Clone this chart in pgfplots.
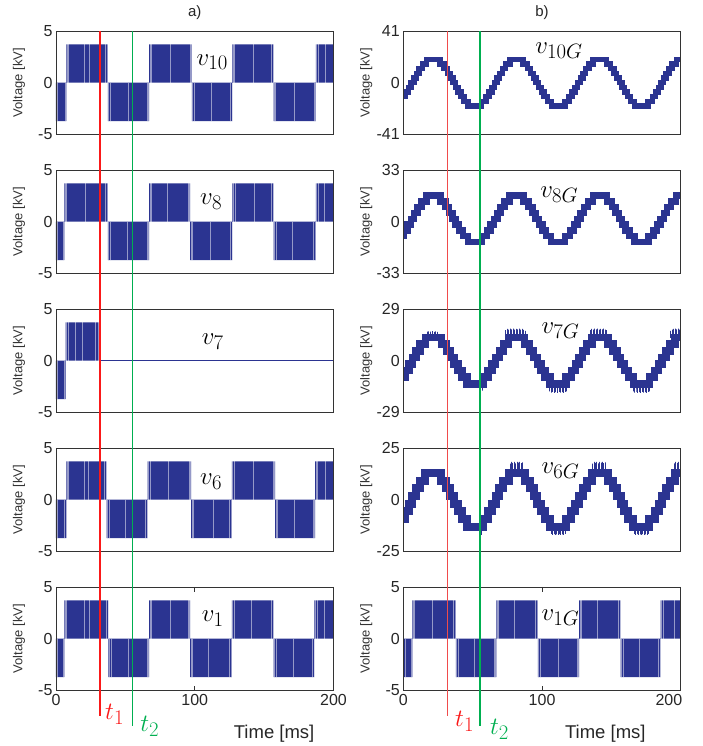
\documentclass[border=0pt]{standalone}
\usepackage{fontspec}
\setmainfont{Liberation Sans}
\usepackage{pgfplots}
\pgfplotsset{compat=1.18}
\usepackage{pgfplotstable}

\definecolor{navy}{RGB}{43,52,145}
\definecolor{redA}{RGB}{250,25,25}
\definecolor{redB}{RGB}{240,75,75}
\definecolor{grn}{RGB}{0,175,80}
\newcommand{\vlab}{\fontsize{24.88}{30}\selectfont}

% staircase waveforms (const plot, kV)
\pgfplotstableread{
x y
0 -11.1
1.74 -7.4
3.77 -3.7
5.67 0
7.53 3.7
9.43 7.4
11.46 11.1
13.76 14.8
16.8 18.5
26.4 14.8
29.44 11.1
31.74 7.4
33.77 3.7
35.67 0
37.53 -3.7
39.43 -7.4
41.46 -11.1
43.76 -14.8
46.8 -18.5
56.4 -14.8
59.44 -11.1
61.74 -7.4
63.77 -3.7
65.67 0
67.53 3.7
69.43 7.4
71.46 11.1
73.76 14.8
76.8 18.5
86.4 14.8
89.44 11.1
91.74 7.4
93.77 3.7
95.67 0
97.53 -3.7
99.43 -7.4
101.46 -11.1
103.76 -14.8
106.8 -18.5
116.4 -14.8
119.44 -11.1
121.74 -7.4
123.77 -3.7
125.67 0
127.53 3.7
129.43 7.4
131.46 11.1
133.76 14.8
136.8 18.5
146.4 14.8
149.44 11.1
151.74 7.4
153.77 3.7
155.67 0
157.53 -3.7
159.43 -7.4
161.46 -11.1
163.76 -14.8
166.8 -18.5
176.4 -14.8
179.44 -11.1
181.74 -7.4
183.77 -3.7
185.67 0
187.53 3.7
189.43 7.4
191.46 11.1
193.76 14.8
196.8 18.5
200 18.5
}\stairTen

\pgfplotstableread{
x y
0 -9.25
0.25 -5.55
2.98 -1.85
5.42 1.85
7.78 5.55
10.22 9.25
12.95 12.95
16.55 16.65
26.65 12.95
30.25 9.25
32.98 5.55
35.42 1.85
37.78 -1.85
40.22 -5.55
42.95 -9.25
46.55 -12.95
56.65 -9.25
60.25 -5.55
62.98 -1.85
65.42 1.85
67.78 5.55
70.22 9.25
72.95 12.95
76.55 16.65
86.65 12.95
90.25 9.25
92.98 5.55
95.42 1.85
97.78 -1.85
100.22 -5.55
102.95 -9.25
106.55 -12.95
116.65 -9.25
120.25 -5.55
122.98 -1.85
125.42 1.85
127.78 5.55
130.22 9.25
132.95 12.95
136.55 16.65
146.65 12.95
150.25 9.25
152.98 5.55
155.42 1.85
157.78 -1.85
160.22 -5.55
162.95 -9.25
166.55 -12.95
176.65 -9.25
180.25 -5.55
182.98 -1.85
185.42 1.85
187.78 5.55
190.22 9.25
192.95 12.95
196.55 16.65
200 16.65
}\stairEight

\pgfplotstableread{
x y
0 -9.25
1.06 -5.55
3.95 -1.85
6.6 1.85
9.25 5.55
12.14 9.25
15.82 12.95
27.38 9.25
31.06 5.55
33.95 1.85
36.6 -1.85
39.25 -5.55
42.14 -9.25
45.82 -12.95
57.38 -9.25
61.06 -5.55
63.95 -1.85
66.6 1.85
69.25 5.55
72.14 9.25
75.82 12.95
87.38 9.25
91.06 5.55
93.95 1.85
96.6 -1.85
99.25 -5.55
102.14 -9.25
105.82 -12.95
117.38 -9.25
121.06 -5.55
123.95 -1.85
126.6 1.85
129.25 5.55
132.14 9.25
135.82 12.95
147.38 9.25
151.06 5.55
153.95 1.85
156.6 -1.85
159.25 -5.55
162.14 -9.25
165.82 -12.95
177.38 -9.25
181.06 -5.55
183.95 -1.85
186.6 1.85
189.25 5.55
192.14 9.25
195.82 12.95
200 12.95
}\stairSix

\pgfplotsset{
  panel/.style={
    scale only axis, width=277.5pt, height=103.5pt,
    xmin=0, xmax=200, xtick=\empty,
    axis line style={black!80, line width=0.8pt},
    axis on top,
    tick label style={font=\fontsize{16}{18}\selectfont, text=black!85},
    ytick style={draw=none},
    ylabel={Voltage [kV]},
    y label style={at={(axis description cs:0,0.5)}, anchor=center, yshift=37pt,
      font=\fontsize{13}{15}\selectfont, text=black!80},
    anchor=north west,
  },
  lpanel/.style={panel, ymin=-5, ymax=5, ytick={-5,0,5}, yticklabels={-5,0,5}},
  blocks/.style={fill=navy, draw=none},
  streaks/.style={ycomb, draw=white, line width=0.45pt, opacity=0.5, mark=none},
  stair/.style={const plot, draw=navy, line join=miter, mark=none},
  spk/.style={navy, line width=0.6pt, mark=none},
  bottomrow/.style={
    xtick={0,100,200}, xticklabels={0,100,200},
    tick align=inside, major tick length=5pt,
    xtick style={draw=black!80, line width=0.8pt},
    xlabel={Time [ms]},
    x label style={anchor=center, yshift=-43pt, font=\fontsize{18.5}{20}\selectfont, text=black!85},
  },
  ttl/.style={title={#1}, title style={at={(axis description cs:0.5,1)}, anchor=center,
      yshift=12pt, font=\fontsize{15}{17}\selectfont, text=black!85}},
}

\begin{document}
\begin{tikzpicture}[x=1pt,y=1pt]
\useasboundingbox (0,0) rectangle (702,746);

% ---------------- left column ----------------
\begin{axis}[lpanel, at={(56pt,715pt)}, ttl={a)}]
\addplot[blocks] coordinates {(0,0)(0,-3.7)(7.5,-3.7)(7.5,3.7)(37.3,3.7)(37.3,-3.7)(67.1,-3.7)(67.1,3.7)(98,3.7)(98,-3.7)(127.2,-3.7)(127.2,3.7)(156.8,3.7)(156.8,-3.7)(187.3,-3.7)(187.3,3.7)(200,3.7)(200,0)} -- cycle;
\addplot[streaks] coordinates {(1.2,-3.7)(6.3,-3.7)
(8,3.7)(9,3.7)(20,3.7)(24,3.7)(35.8,3.7)(36.8,3.7)
(37.8,-3.7)(38.8,-3.7)(52,-3.7)(65.6,-3.7)(66.6,-3.7)
(67.6,3.7)(68.6,3.7)(82,3.7)(96.5,3.7)(97.5,3.7)
(98.5,-3.7)(99.5,-3.7)(112,-3.7)(125.7,-3.7)(126.7,-3.7)
(127.7,3.7)(128.7,3.7)(142,3.7)(155.3,3.7)(156.3,3.7)
(157.3,-3.7)(158.3,-3.7)(172,-3.7)(185.8,-3.7)(186.8,-3.7)
(187.8,3.7)(188.8,3.7)(194,3.7)};
\node[anchor=base west, font=\vlab] at (rel axis cs:0.494,0.671) {$v_{10}$};
\coordinate (RLtop) at (axis cs:31.7,5);
\coordinate (GLtop) at (axis cs:55.3,5);
\end{axis}

\begin{axis}[lpanel, at={(56pt,576pt)}]
\addplot[blocks] coordinates {(0,0)(0,-3.7)(6,-3.7)(6,3.7)(37.3,3.7)(37.3,-3.7)(67.1,-3.7)(67.1,3.7)(96.6,3.7)(96.6,-3.7)(127.2,-3.7)(127.2,3.7)(156.8,3.7)(156.8,-3.7)(187.3,-3.7)(187.3,3.7)(200,3.7)(200,0)} -- cycle;
\addplot[streaks] coordinates {(1.0,-3.7)(5.0,-3.7)
(6.5,3.7)(7.6,3.7)(21,3.7)(35.6,3.7)(36.8,3.7)
(37.8,-3.7)(39,-3.7)(51,-3.7)(65.5,-3.7)(66.6,-3.7)
(67.6,3.7)(68.8,3.7)(80,3.7)(95,3.7)(96.1,3.7)
(97.1,-3.7)(98.3,-3.7)(111,-3.7)(125.6,-3.7)(126.7,-3.7)
(127.7,3.7)(128.9,3.7)(143,3.7)(155.2,3.7)(156.3,3.7)
(157.3,-3.7)(158.5,-3.7)(170,-3.7)(185.7,-3.7)(186.8,-3.7)
(187.8,3.7)(189,3.7)(193.5,3.7)};
\node[anchor=base west, font=\vlab] at (rel axis cs:0.507,0.662) {$v_{8}$};
\end{axis}

\begin{axis}[lpanel, at={(56pt,437pt)}]
\addplot[blocks] coordinates {(0,0)(0,-3.7)(6.9,-3.7)(6.9,3.7)(31.7,3.7)(31.7,0)} -- cycle;
\addplot[navy, line width=0.8pt, mark=none] coordinates {(31.7,0)(200,0)};
\addplot[streaks] coordinates {(1.1,-3.7)(5.6,-3.7)
(7.4,3.7)(8.5,3.7)(14,3.7)(19,3.7)(28,3.7)(30.2,3.7)};
\node[anchor=base west, font=\vlab] at (rel axis cs:0.513,0.657) {$v_{7}$};
\end{axis}

\begin{axis}[lpanel, at={(56pt,298pt)}]
\addplot[blocks] coordinates {(0,0)(0,-3.7)(7.4,-3.7)(7.4,3.7)(36.5,3.7)(36.5,-3.7)(66.1,-3.7)(66.1,3.7)(97.4,3.7)(97.4,-3.7)(126.7,-3.7)(126.7,3.7)(157.9,3.7)(157.9,-3.7)(186.7,-3.7)(186.7,3.7)(200,3.7)(200,0)} -- cycle;
\addplot[streaks] coordinates {(1.2,-3.7)(6.2,-3.7)
(7.9,3.7)(9.1,3.7)(20,3.7)(23,3.7)(35,3.7)(36,3.7)
(37,-3.7)(38.2,-3.7)(50,-3.7)(64.6,-3.7)(65.6,-3.7)
(66.6,3.7)(67.8,3.7)(81,3.7)(95.8,3.7)(96.9,3.7)
(97.9,-3.7)(99.1,-3.7)(113,-3.7)(125.1,-3.7)(126.2,-3.7)
(127.2,3.7)(128.4,3.7)(142,3.7)(156.3,3.7)(157.4,3.7)
(158.4,-3.7)(159.6,-3.7)(172,-3.7)(185.1,-3.7)(186.2,-3.7)
(187.2,3.7)(188.4,3.7)(194,3.7)};
\node[anchor=base west, font=\vlab] at (rel axis cs:0.507,0.643) {$v_{6}$};
\end{axis}

\begin{axis}[lpanel, bottomrow, at={(56pt,159pt)},
  x label style={at={(axis description cs:0.786,0)}}]
\addplot[blocks] coordinates {(0,0)(0,-3.7)(6,-3.7)(6,3.7)(37.8,3.7)(37.8,-3.7)(67.1,-3.7)(67.1,3.7)(96.6,3.7)(96.6,-3.7)(126.7,-3.7)(126.7,3.7)(156.8,3.7)(156.8,-3.7)(186.3,-3.7)(186.3,3.7)(200,3.7)(200,0)} -- cycle;
\addplot[streaks] coordinates {(1.0,-3.7)(5.0,-3.7)
(6.5,3.7)(7.7,3.7)(20,3.7)(24,3.7)(36.2,3.7)(37.3,3.7)
(38.3,-3.7)(39.5,-3.7)(52,-3.7)(65.5,-3.7)(66.6,-3.7)
(67.6,3.7)(68.8,3.7)(82,3.7)(95,3.7)(96.1,3.7)
(97.1,-3.7)(98.3,-3.7)(110,-3.7)(125.1,-3.7)(126.2,-3.7)
(127.2,3.7)(128.4,3.7)(141,3.7)(155.2,3.7)(156.3,3.7)
(157.3,-3.7)(158.5,-3.7)(171,-3.7)(184.7,-3.7)(185.8,-3.7)
(186.8,3.7)(188,3.7)(193,3.7)};
\node[anchor=base west, font=\vlab] at (rel axis cs:0.513,0.662) {$v_{1}$};
\coordinate (RLbot) at (axis cs:31.7,-5);
\coordinate (GLbot) at (axis cs:55.3,-5);
\end{axis}

% ---------------- right column ----------------
\begin{axis}[panel, at={(403.3pt,715pt)}, ttl={b)}, ymin=-41, ymax=41, ytick={-41,0,41}, yticklabels={-41,0,41}]
\addplot[stair, line width=5.5pt] table {\stairTen};
\node[anchor=base west, font=\vlab] at (rel axis cs:0.463,0.787) {$v_{10G}$};
\coordinate (RRtop) at (axis cs:31.7,41);
\coordinate (GRtop) at (axis cs:55.2,41);
\end{axis}

\begin{axis}[panel, at={(403.3pt,576pt)}, ymin=-33, ymax=33, ytick={-33,0,33}, yticklabels={-33,0,33}]
\addplot[stair, line width=6.5pt] table {\stairEight};
\node[anchor=base west, font=\vlab] at (rel axis cs:0.481,0.739) {$v_{8G}$};
\end{axis}

\begin{axis}[panel, at={(403.3pt,437pt)}, ymin=-29, ymax=29, ytick={-29,0,29}, yticklabels={-29,0,29}]
\addplot[stair, line width=7.5pt] table {\stairSix};
% switching spikes
\addplot[spk] coordinates {(17,12.95)(17,16.3)(17,12.95)(18.2,12.95)(18.2,16.5)(18.2,12.95)(19.5,12.95)(19.5,16.3)(19.5,12.95)(20.7,12.95)(20.7,16.6)(20.7,12.95)(22,12.95)(22,16.2)(22,12.95)(23.3,12.95)(23.3,16.4)(23.3,12.95)(24.6,12.95)(24.6,16.2)(24.6,12.95)};
\addplot[spk] coordinates {(54.8,-12.95)(54.8,-16.5)(54.8,-12.95)(55.8,-12.95)(55.8,-17.5)(55.8,-12.95)(56.7,-12.95)(56.7,-16.8)(56.7,-12.95)};
\addplot[spk] coordinates {(73.5,12.95)(73.5,17.2)(73.5,12.95)(74.6,12.95)(74.6,17.8)(74.6,12.95)(75.7,12.95)(75.7,17.5)(75.7,12.95)(76.8,12.95)(76.8,18)(76.8,12.95)(77.9,12.95)(77.9,17.6)(77.9,12.95)(79,12.95)(79,18)(79,12.95)(80.1,12.95)(80.1,17.4)(80.1,12.95)(81.2,12.95)(81.2,17.9)(81.2,12.95)(82.3,12.95)(82.3,17.6)(82.3,12.95)(83.4,12.95)(83.4,18)(83.4,12.95)(84.5,12.95)(84.5,17.5)(84.5,12.95)(85.6,12.95)(85.6,17.8)(85.6,12.95)(86.7,12.95)(86.7,17.3)(86.7,12.95)(87.8,12.95)(87.8,16.8)(87.8,12.95)};
\addplot[spk] coordinates {(105.5,-12.95)(105.5,-17.2)(105.5,-12.95)(106.6,-12.95)(106.6,-17.8)(106.6,-12.95)(107.7,-12.95)(107.7,-17.5)(107.7,-12.95)(108.8,-12.95)(108.8,-18)(108.8,-12.95)(109.9,-12.95)(109.9,-17.6)(109.9,-12.95)(111,-12.95)(111,-18)(111,-12.95)(112.1,-12.95)(112.1,-17.4)(112.1,-12.95)(113.2,-12.95)(113.2,-17.9)(113.2,-12.95)(114.3,-12.95)(114.3,-17.6)(114.3,-12.95)(115.4,-12.95)(115.4,-18)(115.4,-12.95)(116.5,-12.95)(116.5,-17.5)(116.5,-12.95)(117.6,-12.95)(117.6,-17.2)(117.6,-12.95)};
\addplot[spk] coordinates {(134.5,12.95)(134.5,17.2)(134.5,12.95)(135.6,12.95)(135.6,17.8)(135.6,12.95)(136.7,12.95)(136.7,17.5)(136.7,12.95)(137.8,12.95)(137.8,18)(137.8,12.95)(138.9,12.95)(138.9,17.6)(138.9,12.95)(140,12.95)(140,18)(140,12.95)(141.1,12.95)(141.1,17.4)(141.1,12.95)(142.2,12.95)(142.2,17.9)(142.2,12.95)(143.3,12.95)(143.3,17.6)(143.3,12.95)(144.4,12.95)(144.4,18)(144.4,12.95)(145.5,12.95)(145.5,17.5)(145.5,12.95)(146.6,12.95)(146.6,17.2)(146.6,12.95)};
\addplot[spk] coordinates {(165.5,-12.95)(165.5,-17.2)(165.5,-12.95)(166.6,-12.95)(166.6,-17.8)(166.6,-12.95)(167.7,-12.95)(167.7,-17.5)(167.7,-12.95)(168.8,-12.95)(168.8,-18)(168.8,-12.95)(169.9,-12.95)(169.9,-17.6)(169.9,-12.95)(171,-12.95)(171,-18)(171,-12.95)(172.1,-12.95)(172.1,-17.4)(172.1,-12.95)(173.2,-12.95)(173.2,-17.9)(173.2,-12.95)(174.3,-12.95)(174.3,-17.6)(174.3,-12.95)(175.4,-12.95)(175.4,-18)(175.4,-12.95)(176.5,-12.95)(176.5,-17.5)(176.5,-12.95)(177.6,-12.95)(177.6,-17.2)(177.6,-12.95)};
\addplot[spk] coordinates {(192.5,12.95)(192.5,16.8)(192.5,12.95)(193.6,12.95)(193.6,17.5)(193.6,12.95)(194.7,12.95)(194.7,17.8)(194.7,12.95)(195.8,12.95)(195.8,18)(195.8,12.95)(196.9,12.95)(196.9,17.6)(196.9,12.95)(198,12.95)(198,18)(198,12.95)(199.1,12.95)(199.1,17.5)(199.1,12.95)};
\node[anchor=base west, font=\vlab] at (rel axis cs:0.486,0.768) {$v_{7G}$};
\end{axis}

\begin{axis}[panel, at={(403.3pt,298pt)}, ymin=-25, ymax=25, ytick={-25,0,25}, yticklabels={-25,0,25}]
\addplot[stair, line width=8pt] table {\stairSix};
% switching spikes
\addplot[spk] coordinates {(55.4,-12.95)(55.4,-16.2)(55.4,-12.95)(56.4,-12.95)(56.4,-17)(56.4,-12.95)};
\addplot[spk] coordinates {(76.8,12.95)(76.8,17.5)(76.8,12.95)(77.8,12.95)(77.8,18.3)(77.8,12.95)(78.8,12.95)(78.8,17.8)(78.8,12.95)(79.8,12.95)(79.8,18.3)(79.8,12.95)(80.8,12.95)(80.8,17.6)(80.8,12.95)(81.8,12.95)(81.8,18.3)(81.8,12.95)(82.8,12.95)(82.8,17.9)(82.8,12.95)(83.8,12.95)(83.8,18.3)(83.8,12.95)(84.8,12.95)(84.8,17.7)(84.8,12.95)(85.8,12.95)(85.8,18.1)(85.8,12.95)};
\addplot[spk] coordinates {(106.5,-12.95)(106.5,-16.5)(106.5,-12.95)(107.5,-12.95)(107.5,-17)(107.5,-12.95)(108.5,-12.95)(108.5,-16.6)(108.5,-12.95)(109.5,-12.95)(109.5,-17)(109.5,-12.95)(110.5,-12.95)(110.5,-16.7)(110.5,-12.95)(111.5,-12.95)(111.5,-17)(111.5,-12.95)(112.5,-12.95)(112.5,-16.6)(112.5,-12.95)(113.5,-12.95)(113.5,-17)(113.5,-12.95)(114.5,-12.95)(114.5,-16.7)(114.5,-12.95)(115.5,-12.95)(115.5,-17)(115.5,-12.95)(116.6,-12.95)(116.6,-16.5)(116.6,-12.95)};
\addplot[spk] coordinates {(136.4,12.95)(136.4,17.5)(136.4,12.95)(137.4,12.95)(137.4,18.3)(137.4,12.95)(138.4,12.95)(138.4,17.8)(138.4,12.95)(139.4,12.95)(139.4,18.3)(139.4,12.95)(140.4,12.95)(140.4,17.6)(140.4,12.95)(141.4,12.95)(141.4,18.3)(141.4,12.95)(142.4,12.95)(142.4,17.9)(142.4,12.95)(143.4,12.95)(143.4,18.3)(143.4,12.95)(144.4,12.95)(144.4,17.7)(144.4,12.95)(145.6,12.95)(145.6,18.1)(145.6,12.95)};
\addplot[spk] coordinates {(166.5,-12.95)(166.5,-16.5)(166.5,-12.95)(167.5,-12.95)(167.5,-17)(167.5,-12.95)(168.5,-12.95)(168.5,-16.6)(168.5,-12.95)(169.5,-12.95)(169.5,-17)(169.5,-12.95)(170.5,-12.95)(170.5,-16.7)(170.5,-12.95)(171.5,-12.95)(171.5,-17)(171.5,-12.95)(172.5,-12.95)(172.5,-16.6)(172.5,-12.95)(173.5,-12.95)(173.5,-17)(173.5,-12.95)(174.5,-12.95)(174.5,-16.7)(174.5,-12.95)(175.5,-12.95)(175.5,-17)(175.5,-12.95)(176.8,-12.95)(176.8,-16.5)(176.8,-12.95)};
\addplot[spk] coordinates {(195.3,12.95)(195.3,17.6)(195.3,12.95)(196.3,12.95)(196.3,18.3)(196.3,12.95)(197.3,12.95)(197.3,17.8)(197.3,12.95)(198.3,12.95)(198.3,18.3)(198.3,12.95)(199.3,12.95)(199.3,17.7)(199.3,12.95)};
\node[anchor=base west, font=\vlab] at (rel axis cs:0.486,0.758) {$v_{6G}$};
\end{axis}

\begin{axis}[lpanel, bottomrow, at={(403.3pt,159pt)},
  xtick={0,100}, xticklabels={0,100},
  extra x ticks={200}, extra x tick labels={200},
  extra x tick style={xticklabel style={anchor=north east, xshift=5pt}},
  x label style={at={(axis description cs:0.728,0)}}]
\addplot[blocks] coordinates {(0,0)(0,-3.7)(6.5,-3.7)(6.5,3.7)(37.8,3.7)(37.8,-3.7)(67,-3.7)(67,3.7)(96.9,3.7)(96.9,-3.7)(126.8,-3.7)(126.8,3.7)(156.7,3.7)(156.7,-3.7)(185.4,-3.7)(185.4,3.7)(200,3.7)(200,0)} -- cycle;
\addplot[streaks] coordinates {(1.1,-3.7)(5.4,-3.7)
(7,3.7)(8.2,3.7)(21,3.7)(36.2,3.7)(37.3,3.7)
(38.3,-3.7)(39.5,-3.7)(51,-3.7)(65.4,-3.7)(66.5,-3.7)
(67.5,3.7)(68.7,3.7)(80,3.7)(95.3,3.7)(96.4,3.7)
(97.4,-3.7)(98.6,-3.7)(112,-3.7)(125.2,-3.7)(126.3,-3.7)
(127.3,3.7)(128.5,3.7)(140,3.7)(155.1,3.7)(156.2,3.7)
(157.2,-3.7)(158.4,-3.7)(170,-3.7)(183.8,-3.7)(184.9,-3.7)
(185.9,3.7)(187.1,3.7)(195,3.7)};
\node[anchor=base west, font=\vlab] at (rel axis cs:0.486,0.681) {$v_{1G}$};
\coordinate (RRbot) at (axis cs:31.7,-5);
\coordinate (GRbot) at (axis cs:55.2,-5);
\end{axis}

% ---------------- event lines t1, t2 ----------------
\draw[redA, line width=1.5pt] (RLtop) -- (RLbot) -- ++(0,-26);
\draw[grn, line width=1.5pt] (GLtop) -- (GLbot) -- ++(0,-35.5);
\draw[redB, line width=1.5pt] (RRtop) -- (RRbot) -- ++(0,-26);
\draw[grn, line width=1.5pt] (GRtop) -- (GRbot) -- ++(0,-35.5);
\node[anchor=base west, text=redA, font=\vlab] at ([xshift=1.7pt,yshift=-29.5pt]RLbot) {$t_1$};
\node[anchor=base west, text=grn, font=\vlab] at ([xshift=4pt,yshift=-41pt]GLbot) {$t_2$};
\node[anchor=base west, text=redA, font=\vlab] at ([xshift=4.4pt,yshift=-36pt]RRbot) {$t_1$};
\node[anchor=base west, text=grn, font=\vlab] at ([xshift=6.7pt,yshift=-44pt]GRbot) {$t_2$};
\end{tikzpicture}
\end{document}
